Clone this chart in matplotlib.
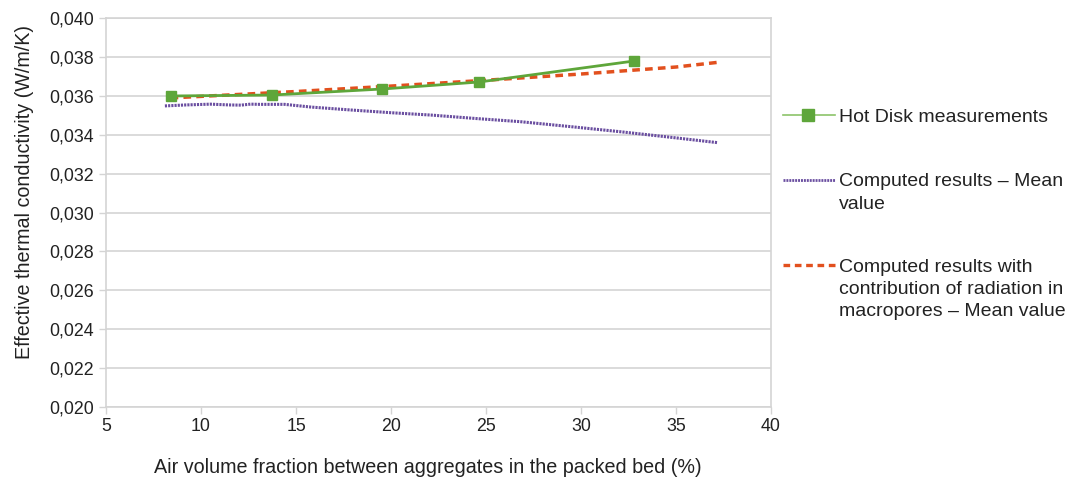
import matplotlib
matplotlib.use("Agg")
import matplotlib.pyplot as plt
from matplotlib.lines import Line2D
from matplotlib.ticker import FuncFormatter, MultipleLocator

plt.rcParams['font.family'] = ['Liberation Sans', 'DejaVu Sans']

# Hot Disk measurements
hd_x = [8.4, 13.75, 19.55, 24.65, 32.8]
hd_y = [0.03599, 0.03604, 0.03635, 0.03671, 0.03779]

# Computed results - mean value
cm_x = [8.1, 9.2, 10.5, 11.5, 12.1, 12.6, 13.1, 14.4, 15.8, 17.9, 20.0, 22.1, 24.5, 26.8, 29.5, 32.1, 34.7, 37.2]
cm_y = [0.03548, 0.03553, 0.03557, 0.03553, 0.03552, 0.03557, 0.03556, 0.03556, 0.03542, 0.03527, 0.03513,
        0.03501, 0.03483, 0.03467, 0.03441, 0.03415, 0.03387, 0.03359]

# Computed results with radiation in macropores - mean value
cr_x = [8.4, 10.0, 15.0, 20.0, 25.0, 30.0, 35.0, 37.2]
cr_y = [0.03589, 0.03597, 0.03622, 0.03650, 0.03680, 0.03712, 0.03748, 0.03772]

labels = ["Hot Disk measurements",
          "Computed results \u2013 Mean\nvalue",
          "Computed results with\ncontribution of radiation in\nmacropores \u2013 Mean value"]

W, H = 1070, 479
fig = plt.figure(figsize=(W/100, H/100), dpi=100)
ax = fig.add_axes([106/W, 1-407/H, (771-106)/W, (407-18)/H])

grid_c = '#d4d4d4'
txt_c = '#222222'
green, purple, red = '#5ea63a', '#6a4ea0', '#e2501e'

ax.set_xlim(5, 40)
ax.set_ylim(0.020, 0.040)
ax.xaxis.set_major_locator(MultipleLocator(5))
ax.yaxis.set_major_locator(MultipleLocator(0.002))
ax.yaxis.set_major_formatter(FuncFormatter(lambda v, p: f"{v:.3f}".replace('.', ',')))
ax.grid(axis='y', color=grid_c, lw=1.2)
ax.set_axisbelow(True)
for s in ax.spines.values():
    s.set_color(grid_c)
    s.set_linewidth(1.2)
ax.tick_params(axis='both', colors=grid_c, labelcolor=txt_c, labelsize=12.8, length=5, width=1.0)
ax.tick_params(axis='x', pad=3)

l2, = ax.plot(cm_x, cm_y, color=purple, lw=2.2, linestyle=(0, (0.7, 0.35)))
l3, = ax.plot(cr_x, cr_y, color=red, lw=2.5, linestyle=(0, (2.2, 1.5)))
l1, = ax.plot(hd_x, hd_y, color=green, lw=2.0, marker='s', markersize=7)

ax.set_xlabel("Air volume fraction between aggregates in the packed bed (%)", fontsize=14.2, color=txt_c)
ax.xaxis.set_label_coords(0.4835, -0.131)
ax.set_ylabel("Effective thermal conductivity (W/m/K)", fontsize=14.2, color=txt_c)
ax.yaxis.set_label_coords(-0.108, 0.553)

# Manual legend (handles aligned with first text line, as in the reference)
def fx(px):
    return px / W

def fy(py):
    return 1 - py / H

entries = [
    (labels[0], 115, dict(color='#8cc46a', lw=1.2), dict(marker='s', markersize=8, color=green, lw=0)),
    (labels[1], 180, dict(color=purple, lw=2.0, linestyle=(0, (0.7, 0.35))), None),
    (labels[2], 265, dict(color=red, lw=2.4, linestyle=(0, (2.0, 1.4))), None),
]
for text, py, lstyle, mstyle in entries:
    fig.add_artist(Line2D([fx(783), fx(835)], [fy(py), fy(py)], transform=fig.transFigure, **lstyle))
    if mstyle:
        fig.add_artist(Line2D([fx(808)], [fy(py)], transform=fig.transFigure, **mstyle))
    fig.text(fx(839), fy(py - 6.5), text, fontsize=14, color=txt_c, ha='left', va='top',
             linespacing=1.4)

fig.savefig("out.png", dpi=100)
